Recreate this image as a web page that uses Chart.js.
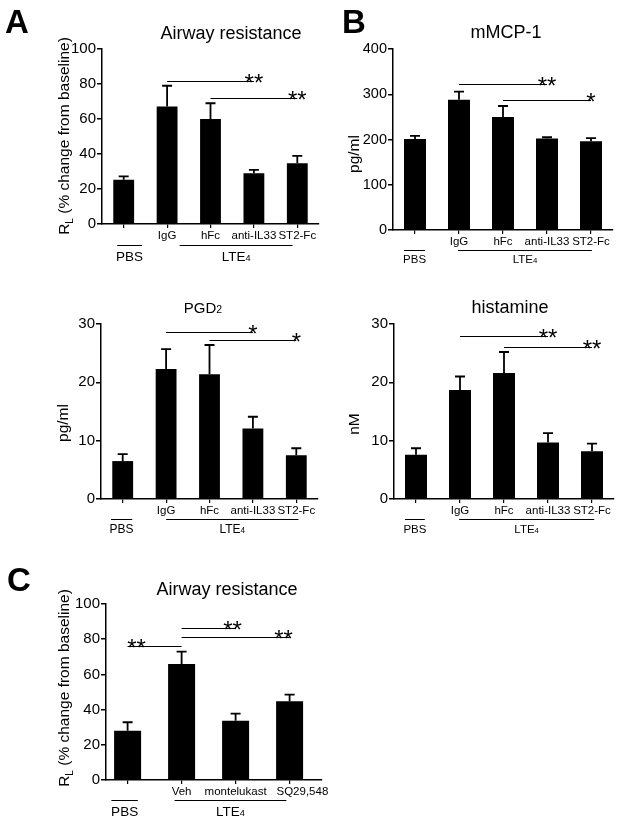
<!DOCTYPE html>
<html>
<head>
<meta charset="utf-8">
<script src="https://cdn.jsdelivr.net/npm/chart.js@4.4.1/dist/chart.umd.min.js"></script>
<style>
  body { margin: 0; background: #fff; width: 624px; height: 823px; position: relative; overflow: hidden; }
  canvas { position: absolute; }
</style>
</head>
<body>
<canvas id="cA" width="330" height="270" style="left:0;top:0"></canvas>
<canvas id="cB" width="304" height="270" style="left:320px;top:0"></canvas>
<canvas id="cPGD" width="330" height="270" style="left:0;top:270px"></canvas>
<canvas id="cHis" width="304" height="270" style="left:320px;top:270px"></canvas>
<canvas id="cC" width="360" height="283" style="left:0;top:540px"></canvas>
<script>
// =======================
// DATA (mean and SEM)
// =======================
const groupsIL33 = ['', 'IgG', 'hFc', 'anti-IL33', 'ST2-Fc'];
const groupsDrug = ['', 'Veh', 'montelukast', 'SQ29,548'];

const airwayA = [25.3, 67.2, 60.0, 29.0, 34.7];
const airwayASem = [1.9, 11.8, 9.0, 1.9, 4.2];
const mmcp1 = [201, 288, 250, 202, 196];
const mmcp1Sem = [7, 18, 24, 3, 7];
const pgd2 = [6.5, 22.3, 21.4, 12.1, 7.5];
const pgd2Sem = [1.2, 3.4, 5.0, 2.0, 1.2];
const histamine = [7.6, 18.7, 21.6, 9.7, 8.2];
const histamineSem = [1.1, 2.3, 3.6, 1.6, 1.3];
const airwayC = [28.0, 65.9, 33.7, 44.7];
const airwayCSem = [4.8, 7.0, 4.0, 3.8];

// significance brackets: [from group, to group (stars end), level, stars]
const sigA = [[1, 3, 82, '**'], [2, 4, 72, '**']];
const sigB = [[1, 3, 322, '**'], [2, 4, 288, '*']];
const sigPGD = [[1, 3, 28.7, '*'], [2, 4, 27.2, '*']];
const sigHis = [[1, 3, 27.9, '**'], [2, 4, 26.1, '**']];
const sigC = [[1, 0, 76.3, '**'], [1, 2, 86.2, '**'], [1, 3, 81.4, '**']];

const FONT = '"Liberation Sans", Arial, sans-serif';

// =======================
// TEXT HELPER (subscripts)
// =======================
function richText(ctx, parts, x, y, align) {
    let total = 0;
    parts.forEach(([t, s]) => { ctx.font = s + 'px ' + FONT; total += ctx.measureText(t).width; });
    let cx = align === 'center' ? x - total / 2 : x;
    ctx.textAlign = 'left';
    ctx.textBaseline = 'alphabetic';
    parts.forEach(([t, s, dy]) => {
        ctx.font = s + 'px ' + FONT;
        ctx.fillText(t, cx, y + (dy || 0));
        cx += ctx.measureText(t).width;
    });
}

// =======================
// EXTRAS: error bars, brackets, group labels, titles
// =======================
function extras(p) {
    return {
        id: 'extras',
        afterDatasetsDraw(chart) {
            const { ctx, chartArea: ca, scales: { x, y } } = chart;
            ctx.save();
            ctx.strokeStyle = '#000';
            ctx.fillStyle = '#000';

            // error bars (upper only)
            ctx.lineWidth = 1.8;
            p.values.forEach((v, i) => {
                const cx = x.getPixelForValue(i);
                const y0 = y.getPixelForValue(v);
                const y1 = y.getPixelForValue(v + p.sem[i]);
                ctx.beginPath();
                ctx.moveTo(cx, y0); ctx.lineTo(cx, y1);
                ctx.moveTo(cx - 5, y1); ctx.lineTo(cx + 5, y1);
                ctx.stroke();
            });

            // significance lines
            ctx.lineWidth = 1;
            p.sig.forEach(([a, b, lvl, stars], k) => {
                const yy = Math.round(y.getPixelForValue(lvl)) + 0.5;
                const xa = x.getPixelForValue(a), xb = x.getPixelForValue(b);
                ctx.beginPath(); ctx.moveTo(xa, yy); ctx.lineTo(xb, yy); ctx.stroke();
                ctx.font = '24px ' + FONT;
                ctx.textAlign = 'center';
                ctx.textBaseline = 'alphabetic';
                ctx.fillText(stars, xb + ((p.starShift && p.starShift[k]) || 0), yy + 9);
            });

            // group lines + names under the axis
            p.groups.forEach(g => {
                const ly = Math.round(ca.bottom + p.groupLineDy) + 0.5;
                const xa = x.getPixelForValue(g.from), xb = x.getPixelForValue(g.to);
                ctx.lineWidth = 1;
                ctx.beginPath(); ctx.moveTo(xa, ly); ctx.lineTo(xb, ly); ctx.stroke();
                richText(ctx, g.text, (xa + xb) / 2, ca.bottom + p.groupTextDy, 'center');
            });

            // title
            richText(ctx, p.title, p.titleX, p.titleY, 'center');

            // y axis title
            ctx.save();
            ctx.translate(p.yTitleX, p.yTitleY);
            ctx.rotate(-Math.PI / 2);
            richText(ctx, p.yTitle, 0, 0, 'center');
            ctx.restore();

            // panel letter
            if (p.letter) {
                ctx.font = 'bold 33px ' + FONT;
                ctx.textAlign = 'left';
                ctx.fillText(p.letter, p.letterX, p.letterY);
            }
            ctx.restore();
        }
    };
}

// =======================
// CHART BUILDER
// =======================
function makePanel(p) {
    const canvas = document.getElementById(p.id);
    const W = canvas.width, H = canvas.height, a = p.area;
    const pad = p.labelPad || {};
    return new Chart(canvas, {
        type: 'bar',
        data: {
            datasets: [{
                data: p.values.map((v, i) => ({ x: i, y: v })),
                backgroundColor: '#000',
                borderWidth: 0,
                barPercentage: p.barPct,
                categoryPercentage: 1
            }]
        },
        options: {
            responsive: false,
            animation: false,
            devicePixelRatio: 1,
            layout: { padding: { top: a.t, right: W - a.r, left: 0, bottom: 0 } },
            plugins: { legend: { display: false }, title: { display: false }, tooltip: { enabled: false } },
            scales: {
                x: {
                    type: 'linear',
                    offset: false,
                    min: p.xMin, max: p.xMax,
                    afterFit: s => { s.height = H - a.b; },
                    afterBuildTicks: s => { s.ticks = p.labels.map((_, i) => ({ value: i })); },
                    ticks: {
                        callback: v => ('\u2007'.repeat(pad[v] || 0)) + (p.labels[v] ?? ''),
                        font: { family: FONT, size: p.catSize },
                        color: '#000', padding: 1, maxRotation: 0, autoSkip: false
                    },
                    grid: { offset: false, drawOnChartArea: false, drawTicks: true, tickLength: 4, color: '#000', lineWidth: 1.2 },
                    border: { color: '#000', width: 1.5 }
                },
                y: {
                    min: 0, max: p.yMax,
                    afterFit: s => { s.width = a.l; },
                    ticks: { stepSize: p.yStep, font: { family: FONT, size: p.tickSize }, color: '#000', padding: 1 },
                    grid: { drawOnChartArea: false, drawTicks: true, tickLength: 5, color: '#000', lineWidth: 1.5 },
                    border: { color: '#000', width: 1.5 }
                }
            }
        },
        plugins: [extras(p)]
    });
}

const rlTitle = [['R', 15.5], ['L', 10, 4], [' (% change from baseline)', 15.5]];
const lte4 = s => [['LTE', s], ['4', s * 0.68]];

makePanel({
    id: 'cA', area: { l: 102, t: 49, r: 319, b: 224 }, xMin: -0.5, xMax: 4.5,
    labels: groupsIL33, values: airwayA, sem: airwayASem, sig: sigA,
    yMax: 100, yStep: 20, barPct: 0.48, catSize: 11.5, tickSize: 15,
    groupLineDy: 21, groupTextDy: 37,
    groups: [{ text: [['PBS', 13.5]], from: -0.15, to: 0.42 }, { text: lte4(13.5), from: 1.29, to: 3.89 }],
    title: [['Airway resistance', 18]], titleX: 231, titleY: 39,
    yTitle: rlTitle, yTitleX: 69, yTitleY: 136,
    letter: 'A', letterX: 5, letterY: 33
});

makePanel({
    id: 'cB', area: { l: 73, t: 49, r: 293, b: 230 }, xMin: -0.5, xMax: 4.5,
    labels: groupsIL33, values: mmcp1, sem: mmcp1Sem, sig: sigB,
    yMax: 400, yStep: 100, barPct: 0.5, catSize: 11.5, tickSize: 14.5,
    groupLineDy: 20, groupTextDy: 33,
    groups: [{ text: [['PBS', 11.5]], from: -0.25, to: 0.23 }, { text: lte4(11.5), from: 0.98, to: 4.02 }],
    title: [['mMCP-1', 18]], titleX: 186, titleY: 38,
    yTitle: [['pg/ml', 15.5]], yTitleX: 39, yTitleY: 154,
    letter: 'B', letterX: 22, letterY: 33
});

makePanel({
    id: 'cPGD', area: { l: 101, t: 54, r: 318, b: 229 }, xMin: -0.5, xMax: 4.5,
    labels: groupsIL33, values: pgd2, sem: pgd2Sem, sig: sigPGD,
    yMax: 30, yStep: 10, barPct: 0.48, catSize: 11.5, tickSize: 15,
    groupLineDy: 20, groupTextDy: 34,
    groups: [{ text: [['PBS', 12]], from: -0.27, to: 0.22 }, { text: lte4(12), from: 1.0, to: 4.05 }],
    title: [['PGD', 15], ['2', 10.5]], titleX: 203, titleY: 43,
    yTitle: [['pg/ml', 15.5]], yTitleX: 68, yTitleY: 153
});

makePanel({
    id: 'cHis', area: { l: 74, t: 54, r: 294, b: 229 }, xMin: -0.5, xMax: 4.5,
    labels: groupsIL33, values: histamine, sem: histamineSem, sig: sigHis,
    yMax: 30, yStep: 10, barPct: 0.5, catSize: 11.5, tickSize: 15,
    groupLineDy: 20, groupTextDy: 34,
    groups: [{ text: [['PBS', 11.5]], from: -0.25, to: 0.2 }, { text: lte4(11.5), from: 0.98, to: 4.05 }],
    title: [['histamine', 18]], titleX: 190, titleY: 43,
    yTitle: [['nM', 15.5]], yTitleX: 39, yTitleY: 154
});

makePanel({
    id: 'cC', area: { l: 106, t: 64, r: 322, b: 240 }, xMin: -0.4, xMax: 3.6,
    labels: groupsDrug, values: airwayC, sem: airwayCSem, sig: sigC,
    starShift: [9, -3, -6], labelPad: { 3: 4 },
    yMax: 100, yStep: 20, barPct: 0.5, catSize: 11.5, tickSize: 15,
    groupLineDy: 20, groupTextDy: 36,
    groups: [{ text: [['PBS', 13.5]], from: -0.3, to: 0.19 }, { text: lte4(13.5), from: 0.87, to: 2.94 }],
    title: [['Airway resistance', 18]], titleX: 227, titleY: 55,
    yTitle: rlTitle, yTitleX: 69, yTitleY: 148,
    letter: 'C', letterX: 7, letterY: 51
});
</script>
</body>
</html>
